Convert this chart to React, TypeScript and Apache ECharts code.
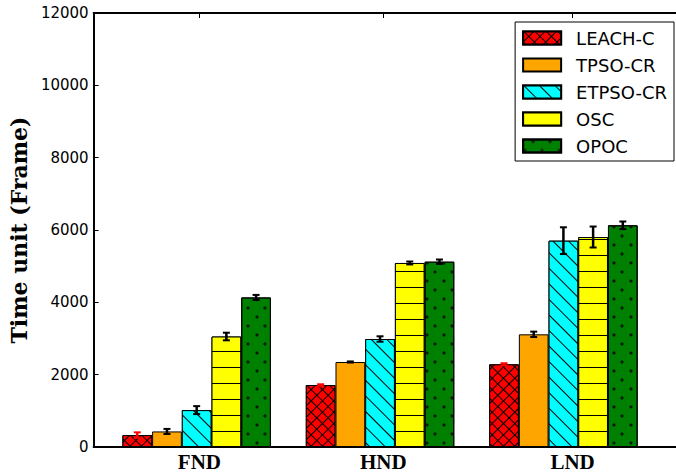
import React, { useEffect, useRef } from "react";
import * as echarts from "echarts";

const CATEGORIES = ["FND", "HND", "LND"];
const SERIES_NAMES = ["LEACH-C", "TPSO-CR", "ETPSO-CR", "OSC", "OPOC"];

const LEACH_C = [330, 1714, 2286];
const TPSO_CR = [430, 2350, 3115];
const ETPSO_CR = [1020, 2986, 5705];
const OSC = [3055, 5088, 5806];
const OPOC = [4135, 5124, 6130];

const LEACH_C_ERR = [75, 20, 30];
const TPSO_CR_ERR = [70, 15, 75];
const ETPSO_CR_ERR = [110, 75, 370];
const OSC_ERR = [105, 40, 290];
const OPOC_ERR = [70, 60, 105];

const Y_MIN = 0;
const Y_MAX = 12000;
const Y_STEP = 2000;

const VALUES = [LEACH_C, TPSO_CR, ETPSO_CR, OSC, OPOC];
const ERRORS = [LEACH_C_ERR, TPSO_CR_ERR, ETPSO_CR_ERR, OSC_ERR, OPOC_ERR];

// layout constants
const BAR_W = 29.7;
const X_MIN = -0.562;
const X_MAX = 2.614;
const TICK_POS = [0.015, 1.018, 2.05];

const COLORS = ["#ff0000", "#ffa500", "#00ffff", "#ffff00", "#008000"];

function styleFor(i: number): any {
  const base: any = { borderColor: "#000", borderWidth: 1 };
  if (i === 0) {
    return {
      ...base,
      color: "#000",
      decal: {
        symbol: "rect",
        symbolSize: 1,
        symbolKeepAspect: false,
        color: "#ff0000",
        dashArrayX: [[6.1, 1]],
        dashArrayY: [6.1, 1],
        rotation: Math.PI / 4,
      },
    };
  }
  if (i === 1) return { ...base, color: COLORS[1] };
  if (i === 2) {
    return {
      ...base,
      color: "#000",
      decal: {
        symbol: "rect",
        symbolSize: 1,
        symbolKeepAspect: false,
        color: "#00ffff",
        dashArrayX: [[20, 0]],
        dashArrayY: [10, 1],
        rotation: Math.PI / 4,
      },
    };
  }
  if (i === 3) {
    return {
      ...base,
      color: "#000",
      decal: {
        symbol: "rect",
        symbolSize: 1,
        symbolKeepAspect: false,
        color: "#ffff00",
        dashArrayX: [[20, 0]],
        dashArrayY: [14.7, 1],
        rotation: 0,
      },
    };
  }
  return {
    ...base,
    color: "#008000",
    decal: {
      symbol: "circle",
      symbolSize: 0.8,
      symbolKeepAspect: true,
      color: "#0a1a0a",
      dashArrayX: [[3.5, 12.2], [0, 7.85, 3.5, 4.35]],
      dashArrayY: [3.5, 4.35],
      rotation: 0,
    },
  };
}

export default function App() {
  const ref = useRef<HTMLDivElement>(null);
  useEffect(() => {
    if (!ref.current) return;
    const chart = echarts.init(ref.current, null, { renderer: "svg" });

    const barSeries = SERIES_NAMES.map((name, i) => ({
      name,
      type: "bar",
      xAxisIndex: 0,
      yAxisIndex: 0,
      barWidth: BAR_W,
      barGap: "0%",
      data: VALUES[i].map((v, g) => [g, v]),
      itemStyle: styleFor(i),
      emphasis: { disabled: true },
      z: 2,
    }));

    const errData: number[][] = [];
    VALUES.forEach((vals, si) =>
      vals.forEach((v, g) => errData.push([g, v, ERRORS[si][g], si]))
    );

    const errSeries = {
      type: "custom",
      name: "err",
      xAxisIndex: 0,
      yAxisIndex: 0,
      z: 5,
      silent: true,
      data: errData,
      renderItem: (params: any, api: any) => {
        const g = api.value(0);
        const v = api.value(1);
        const e = api.value(2);
        const si = api.value(3);
        const top = api.coord([g, v + e]);
        const bot = api.coord([g, v - e]);
        const x = top[0] + (si - 2) * BAR_W;
        const color = si === 0 ? "#ff0000" : "#000";
        const cap = 3.5;
        return {
          type: "group",
          children: [
            {
              type: "line",
              shape: { x1: x, y1: top[1], x2: x, y2: bot[1] },
              style: { stroke: color, lineWidth: 2.5 },
            },
            {
              type: "line",
              shape: { x1: x - cap, y1: top[1], x2: x + cap, y2: top[1] },
              style: { stroke: color, lineWidth: 2 },
            },
            {
              type: "line",
              shape: { x1: x - cap, y1: bot[1], x2: x + cap, y2: bot[1] },
              style: { stroke: color, lineWidth: 2 },
            },
          ],
        };
      },
    };

    chart.setOption({
      animation: false,
      textStyle: { fontFamily: "DejaVu Sans" },
      grid: { left: 90, right: 0, top: 13, bottom: 28 },
      legend: {
        data: SERIES_NAMES,
        orient: "vertical",
        right: 2,
        top: 22,
        itemWidth: 38,
        itemHeight: 13,
        itemGap: 7,
        padding: [6, 7, 5, 7],
        borderColor: "#000",
        borderWidth: 1,
        backgroundColor: "#fff",
        icon: "rect",
        textStyle: {
          fontFamily: "DejaVu Sans",
          fontSize: 18,
          lineHeight: 20,
          color: "#000",
          padding: [0, 0, 0, 10],
        },
      },
      xAxis: [
        {
          type: "value",
          min: X_MIN,
          max: X_MAX,
          position: "bottom",
          splitLine: { show: false },
          axisLine: { show: true, onZero: false, lineStyle: { color: "#000", width: 2 } },
          axisTick: {
            show: true,
            inside: true,
            length: 5,
            customValues: TICK_POS,
            lineStyle: { color: "#000", width: 1 },
          },
          axisLabel: {
            show: true,
            customValues: TICK_POS,
            margin: 4,
            formatter: (val: number) => CATEGORIES[Math.round(val)] ?? "",
            fontFamily: "Liberation Serif",
            fontWeight: "bold",
            fontSize: 21,
            color: "#000",
          },
        },
        {
          type: "value",
          min: X_MIN,
          max: X_MAX,
          position: "top",
          splitLine: { show: false },
          axisLine: { show: true, onZero: false, lineStyle: { color: "#000", width: 2 } },
          axisTick: {
            show: true,
            inside: true,
            length: 5,
            customValues: TICK_POS,
            lineStyle: { color: "#000", width: 1 },
          },
          axisLabel: { show: false },
        },
      ],
      yAxis: {
        type: "value",
        min: Y_MIN,
        max: Y_MAX,
        interval: Y_STEP,
        name: "Time unit (Frame)",
        nameLocation: "middle",
        nameGap: 63,
        nameTextStyle: {
          fontFamily: "DejaVu Serif",
          fontWeight: "bold",
          fontSize: 22,
          color: "#000",
        },
        splitLine: { show: false },
        axisLine: { show: true, onZero: false, lineStyle: { color: "#000", width: 2 } },
        axisTick: { show: true, inside: true, length: 5, lineStyle: { color: "#000", width: 1 } },
        axisLabel: {
          fontSize: 15,
          color: "#000",
          margin: 5,
          fontFamily: "DejaVu Sans",
          formatter: (v: number) => String(v),
        },
      },
      series: [...barSeries, errSeries],
    });

    return () => chart.dispose();
  }, []);

  return (
    <div
      ref={ref}
      style={{ position: "fixed", left: 0, top: 0, width: 676, height: 475, background: "#fff" }}
    />
  );
}
